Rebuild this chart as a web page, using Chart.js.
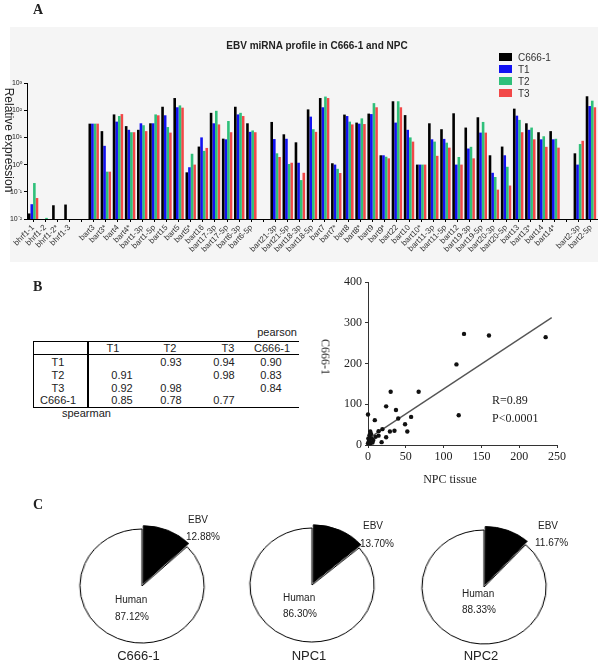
<!DOCTYPE html>
<html><head><meta charset="utf-8">
<script src="https://cdn.jsdelivr.net/npm/chart.js@4.4.1/dist/chart.umd.min.js"></script>
<style>
html,body{margin:0;padding:0;background:#fff;}
#root{position:relative;width:600px;height:661px;overflow:hidden;font-family:"Liberation Sans",Arial,sans-serif;}
.abs{position:absolute;white-space:nowrap;line-height:1;}
.ln{position:absolute;background:#000;}
canvas{display:block;}
</style></head><body><div id="root">
<canvas id="barA" width="600" height="262" style="position:absolute;left:0;top:0"></canvas>
<canvas id="scatB" width="285" height="200" style="position:absolute;left:315px;top:272px"></canvas>
</div>
<script>
// ---------- Panel A data ----------
const categories = ['bhrf1-1','bhrf1-2','bhrf1-2*','bhrf1-3','',
 'bart3','bart3*','bart4','bart4*','bart1-3p','bart1-5p','bart15','bart5','bart5*','bart16','bart17-3p','bart17-5p','bart6-3p','bart6-5p','',
 'bart21-3p','bart21-5p','bart18-3p','bart18-5p','bart7','bart7*','bart8','bart8*','bart9','bart9*','bart22','bart10','bart10*','bart11-3p','bart11-5p','bart12','bart19-3p','bart19-5p','bart20-3p','bart20-5p','bart13','bart13*','bart14','bart14*','',
 'bart2-3p','bart2-5p'];
const seriesNames = ['C666-1','T1','T2','T3'];
const c666 = [0.016,null,0.032,0.034,null, 32,17,70,26,19,33,134,280,0.52,4.6,80,9,134,33,null, 37,13,6.6,107,280,1.12,69,35,75,2.2,213,66,1.0,33,20,77,23,55,2.2,4.6,114,33,15.5,17,null, 2.6,325];
const t1   = [0.035,null,null,null,null, 32,4.9,38,19,33,33,65,128,0.8,10,33,8.5,70,16,null, 8.7,8.9,1.17,58,128,1.0,61,32,72,2.2,35,19,1.0,8.5,8.8,1.0,3.9,15,0.5,2.2,63,19,8.5,8.5,null, 1.0,142];
const t2   = [0.21,0.011,null,null,null, 32,0.55,61,15.5,28,70,24,150,2.5,3.2,95,40,80,18,null, 2.6,1.05,0.27,20,317,0.7,38,50,182,1.95,213,10,1.0,7,6.4,1.9,4.5,37,0.35,0.83,44,23,11,8.9,null, 5.7,224];
const t3   = [0.059,null,null,null,null, 32,0.55,72,15.5,17,65,15,124,1.0,4.1,30,15.5,61,15.5,null, 1.9,1.17,0.5,16,280,0.49,30,31,128,1.7,128,7,1.0,2.1,4.2,1.0,1.7,15,0.12,0.17,15.5,8.5,4.5,4.2,null, 7.5,128];
const yTickVals = [0.01,0.1,1,10,100,1000];
const yTickLabels = ['10\u207B\u00B2','10\u207B\u00B9','10\u2070','10\u00B9','10\u00B2','10\u00B3'];

// ---------- Panel B data ----------
const corrHeads = ['T1','T2','T3','C666-1'];
const corrT1   = [null,0.93,0.94,0.90];
const corrT2   = [0.91,null,0.98,0.83];
const corrT3   = [0.92,0.98,null,0.84];
const corrC666 = [0.85,0.78,0.77,null];
const scatterX = [127,160,235,117,120,67,30,24,37,40,57,49,52,35,29,19,24,18,9,0,14,14,3,2,5,1,0,3,7,0.5,10,4,2,6];
const scatterY = [273,269,265,198,73,131,131,95,86,65,69,51,33,35,33,39,19,7,61,75,34,23,33,24,16,8,4,4,12,16,20,27,12,6];
const fitX = [0,243];
const fitY = [15,313];

// ---------- Panel C data ----------
const pieNames = ['C666-1','NPC1','NPC2'];
const ebvPct = [12.88,13.70,11.67];
const humanPct = [87.12,86.30,88.33];

const colors = ['#000000','#1212f2','#2fc07a','#f24848'];
const root = document.getElementById('root');

function txt(s, x, y, font, align, rot, color){
  const d = document.createElement('div');
  d.className = 'abs'; d.textContent = s;
  d.style.left = x + 'px'; d.style.top = y + 'px';
  d.style.font = font; d.style.color = color || '#222';
  let tx = align === 'center' ? '-50%' : (align === 'right' ? '-100%' : '0');
  if (rot) { d.style.transform = 'translate(-50%,-50%) rotate(' + rot + 'deg)'; }
  else d.style.transform = 'translate(' + tx + ',-50%)';
  root.appendChild(d); return d;
}
function line(x, y, w, h){ const d=document.createElement('div'); d.className='ln'; d.style.left=x+'px'; d.style.top=y+'px'; d.style.width=w+'px'; d.style.height=h+'px'; root.appendChild(d); }

// ---------- Panel A ----------
const bgPlugin = {id:'bgA', beforeDraw(c){ const ctx=c.ctx; ctx.save(); ctx.fillStyle='#f5f5f5'; ctx.fillRect(10,27,588,235); ctx.restore(); }};
new Chart(document.getElementById('barA'), {
  type:'bar',
  data:{labels:categories, datasets:[c666,t1,t2,t3].map((d,i)=>({label:seriesNames[i], data:d, backgroundColor:colors[i], borderWidth:0}))},
  options:{responsive:false, animation:false, events:[],
    layout:{padding:{left:0,right:3,top:83,bottom:0}},
    datasets:{bar:{categoryPercentage:0.86, barPercentage:1.0}},
    plugins:{legend:{display:false}, tooltip:{enabled:false}},
    scales:{
      x:{type:'category', grid:{display:true, drawOnChartArea:false, offset:false, tickLength:3, color:'#000'}, border:{color:'#000'},
         ticks:{autoSkip:false, minRotation:45, maxRotation:45, font:{family:'Liberation Sans', size:8}, color:'#333', padding:1},
         afterFit(s){ s.height = 43; }},
      y:{type:'logarithmic', min:0.01, max:1000,
         afterBuildTicks(s){ s.ticks = yTickVals.map(v=>({value:v})); },
         ticks:{callback:(v,i)=>yTickLabels[i], font:{family:'Liberation Sans', size:7}, color:'#222', padding:2},
         grid:{drawOnChartArea:false, tickLength:3, color:'#000'}, border:{color:'#000'},
         afterFit(s){ s.width = 27; }}
    }
  },
  plugins:[bgPlugin]
});
txt('A', 33, 10, 'bold 14px "Liberation Serif"', 'left');
txt('EBV miRNA profile in C666-1 and NPC', 317, 45, 'bold 10px "Liberation Sans"', 'center');
txt('Relative expression', 9, 140, '12px "Liberation Sans"', 'center', 90);
seriesNames.forEach((n,i)=>{
  const y = 57 + i*12;
  const b = document.createElement('div'); b.className='abs';
  b.style.left='499px'; b.style.top=(y-4)+'px'; b.style.width='13px'; b.style.height='8px'; b.style.background=colors[i];
  root.appendChild(b);
  txt(n, 518, y, '10px "Liberation Sans"', 'left', 0, '#333');
});

// ---------- Panel B ----------
txt('B', 33, 287, 'bold 14px "Liberation Serif"', 'left');
const tFont = '11px "Liberation Sans"';
txt('pearson', 297, 332, tFont, 'right');
txt('spearman', 62, 413, tFont, 'left');
const headX = [113,170,228,272];
const valX = [122,171,224,271];
const rowY = [362,375,388,400];
corrHeads.forEach((h,i)=>txt(h, headX[i], 348, tFont, 'center'));
[corrT1,corrT2,corrT3,corrC666].forEach((row,r)=>{
  txt(corrHeads[r], 58, rowY[r], tFont, 'center');
  row.forEach((v,c)=>{ if(v!==null) txt(v.toFixed(2), valX[c], rowY[r], tFont, 'center'); });
});
line(33,341,266,1); line(33,354,266,1); line(33,407,266,1);
line(33,341,1,67); line(87,341,2,67);

const pts = scatterX.map((x,i)=>({x:x, y:scatterY[i]}));
const fitPts = fitX.map((x,i)=>({x:x, y:fitY[i]}));
const serif = {family:'Liberation Serif', size:12};
new Chart(document.getElementById('scatB'), {
  type:'scatter',
  data:{datasets:[
    {data:pts, backgroundColor:'#111', borderColor:'#111', pointRadius:2.2, borderWidth:0, clip:false},
    {type:'line', data:fitPts, borderColor:'#555', borderWidth:1.4, pointRadius:0, fill:false, clip:false}
  ]},
  options:{responsive:false, animation:false, events:[],
    layout:{padding:{left:0,right:43,top:10,bottom:0}},
    plugins:{legend:{display:false}, tooltip:{enabled:false}},
    scales:{
      x:{type:'linear', min:0, max:250, ticks:{stepSize:50, font:serif, color:'#222', padding:2},
         grid:{drawOnChartArea:false, tickLength:3, color:'#333'}, border:{color:'#333'}, afterFit(s){ s.height = 27; }},
      y:{type:'linear', min:0, max:400, ticks:{stepSize:100, font:serif, color:'#222', padding:3},
         grid:{drawOnChartArea:false, tickLength:3, color:'#333'}, border:{color:'#333'}, afterFit(s){ s.width = 53; }}
    }
  }
});
txt('C666-1', 325, 357, '12px "Liberation Serif"', 'center', 90);
txt('NPC tissue', 450, 479, '12px "Liberation Serif"', 'center');
txt('R=0.89', 492, 400, '12px "Liberation Serif"', 'left');
txt('P<0.0001', 492, 418, '12px "Liberation Serif"', 'left');

// ---------- Panel C ----------
txt('C', 33, 505, 'bold 14px "Liberation Serif"', 'left');
const pieCx = [141.5, 312, 484];
const pieCy = [586, 585, 587];
const ebvLab = [[188,519,186,536],[363,525,360,543],[538,525,535,542]];
const humLab = [[115,599,115,616],[283,597,283,613],[462,593,462,609]];
pieNames.forEach((n,i)=>{
  const w = document.createElement('div');
  w.style.position='absolute'; w.style.left=(pieCx[i]-75)+'px'; w.style.top=(pieCy[i]-75)+'px';
  w.style.width='150px'; w.style.height='150px'; w.style.transform='scaleX(1.09)';
  const cv = document.createElement('canvas'); cv.width=150; cv.height=150;
  w.appendChild(cv); root.appendChild(w);
  new Chart(cv, {type:'pie',
    data:{labels:['EBV','Human'], datasets:[{data:[ebvPct[i], humanPct[i]], backgroundColor:['#000','#fff'], borderColor:'#000', borderWidth:1, offset:[11,0], clip:false}]},
    options:{responsive:false, animation:false, events:[], layout:{padding:12}, plugins:{legend:{display:false}, tooltip:{enabled:false}}}
  });
  const f = '10px "Liberation Sans"';
  txt('EBV', ebvLab[i][0], ebvLab[i][1], f, 'left');
  txt(ebvPct[i].toFixed(2)+'%', ebvLab[i][2], ebvLab[i][3], f, 'left');
  txt('Human', humLab[i][0], humLab[i][1], f, 'left');
  txt(humanPct[i].toFixed(2)+'%', humLab[i][2], humLab[i][3], f, 'left');
  txt(n, pieCx[i]-3, 655, '13px "Liberation Sans"', 'center');
});
</script></body></html>
